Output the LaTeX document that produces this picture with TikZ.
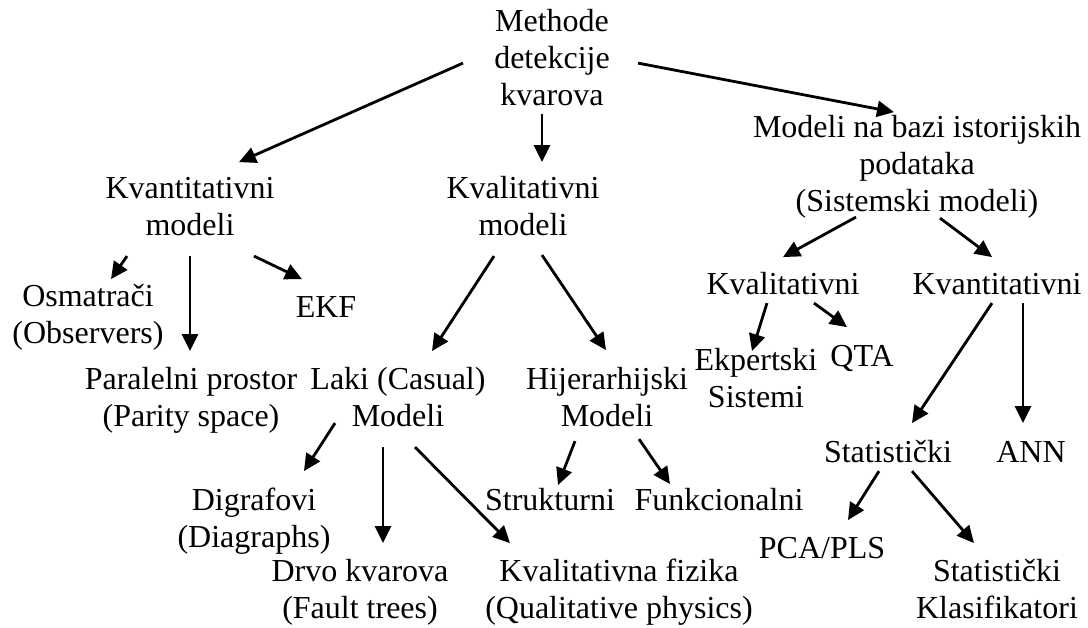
\documentclass[tikz,border=0pt]{standalone}
\usepackage{fontspec}
\setmainfont{Liberation Serif}
\usetikzlibrary{arrows.meta,calc}
\begin{document}
\begin{tikzpicture}[x=1pt,y=-1pt,
  lbl/.style={anchor=north,inner sep=0pt,outer sep=0pt,align=center,
    font=\fontsize{32}{37}\selectfont},
  arr/.style={-{Triangle[length=17pt,width=16pt]},line width=2.8pt}]
\useasboundingbox (0,0) rectangle (1088,628);

% root
\node[lbl] (meth) at (552,6.1) {Methode\strut\\detekcije\strut\\kvarova\strut};

% second level
\node[lbl] (kvant) at (190,173.1) {Kvantitativni\strut\\modeli\strut};
\node[lbl] (kval)  at (523,173.1) {Kvalitativni\strut\\modeli\strut};
\node[lbl] (hist)  at (917,112.1) {Modeli na bazi istorijskih\strut\\podataka\strut\\(Sistemski modeli)\strut};

% quantitative models
\node[lbl] (osm) at (88,281.1)  {Osmatrači\strut\\(Observers)\strut};
\node[lbl] (ekf) at (326,292.1) {EKF\strut};
\node[lbl] (par) at (191,364.1) {Paralelni prostor\strut\\(Parity space)\strut};

% qualitative models
\node[lbl] (laki) at (398,364.1) {Laki (Casual)\strut\\Modeli\strut};
\node[lbl] (hij)  at (607,364.1) {Hijerarhijski\strut\\Modeli\strut};
\node[lbl] (dig)  at (254,484.1) {Digrafovi\strut\\(Diagraphs)\strut};
\node[lbl] (drvo) at (360,555.1) {Drvo kvarova\strut\\(Fault trees)\strut};
\node[lbl] (fiz)  at (619,555.1) {Kvalitativna fizika\strut\\(Qualitative physics)\strut};
\node[lbl] (str)  at (550,485.1) {Strukturni\strut};
\node[lbl] (fun)  at (719,485.1) {Funkcionalni\strut};

% process history based models
\node[lbl] (kvl2) at (783,269.1)  {Kvalitativni\strut};
\node[lbl] (kvn2) at (997,269.1)  {Kvantitativni\strut};
\node[lbl] (eks)  at (756,345.1)  {Ekpertski\strut\\Sistemi\strut};
\node[lbl] (qta)  at (862,341.1)  {QTA\strut};
\node[lbl] (stat) at (888,437.1)  {Statistički\strut};
\node[lbl] (ann)  at (1031,437.1) {ANN\strut};
\node[lbl] (pca)  at (822,532.1)  {PCA/PLS\strut};
\node[lbl] (klas) at (997,555.1)  {Statistički\strut\\Klasifikatori\strut};

% connectors
\draw[arr] ($(meth.north)+(-89,57)$) -- ($(kvant.north)+(49,-11)$);
\draw[arr] ($(meth.north)+(-10,108)$) -- ($(kval.north)+(19,-11)$);
\draw[arr] ($(meth.north)+(86,57)$) -- ($(hist.north)+(-23,0)$);

\draw[arr] ($(kvant.north)+(-63,83)$) -- ($(osm.north)+(23,-2)$);
\draw[arr] ($(kvant.north)+(0,83)$) -- ($(par.north)+(-1,-13)$);
\draw[arr] ($(kvant.north)+(64,83)$) -- ($(ekf.north)+(-24,-13)$);

\draw[arr] ($(kval.north)+(-29,83)$) -- ($(laki.north)+(34,-13)$);
\draw[arr] ($(kval.north)+(19,82)$) -- ($(hij.north)+(-1,-14)$);

\draw[arr] ($(hist.north)+(-61,105)$) -- ($(kvl2.north)+(0,-12)$);
\draw[arr] ($(hist.north)+(23,106)$) -- ($(kvn2.north)+(-5,-12)$);

\draw[arr] ($(kvl2.north)+(-16,34)$) -- ($(eks.north)+(-4,6)$);
\draw[arr] ($(kvl2.north)+(31,34)$) -- ($(qta.north)+(-15,-14)$);
\draw[arr] ($(kvn2.north)+(-5,34)$) -- ($(stat.north)+(24,-14)$);
\draw[arr] ($(kvn2.north)+(26,34)$) -- ($(ann.north)+(-8,-14)$);

\draw[arr] ($(laki.north)+(-63,59)$) -- ($(dig.north)+(50,-13)$);
\draw[arr] ($(laki.north)+(-15,83)$) -- ($(drvo.north)+(23,-12)$);
\draw[arr] ($(laki.north)+(17,83)$) -- ($(fiz.north)+(-109,-12)$);

\draw[arr] ($(hij.north)+(-32,77)$) -- ($(str.north)+(8,0)$);
\draw[arr] ($(hij.north)+(32,75)$) -- ($(fun.north)+(-49,-1)$);

\draw[arr] ($(stat.north)+(-9,34)$) -- ($(pca.north)+(26,-12)$);
\draw[arr] ($(stat.north)+(24,34)$) -- ($(klas.north)+(-23,-12)$);
\end{tikzpicture}
\end{document}
